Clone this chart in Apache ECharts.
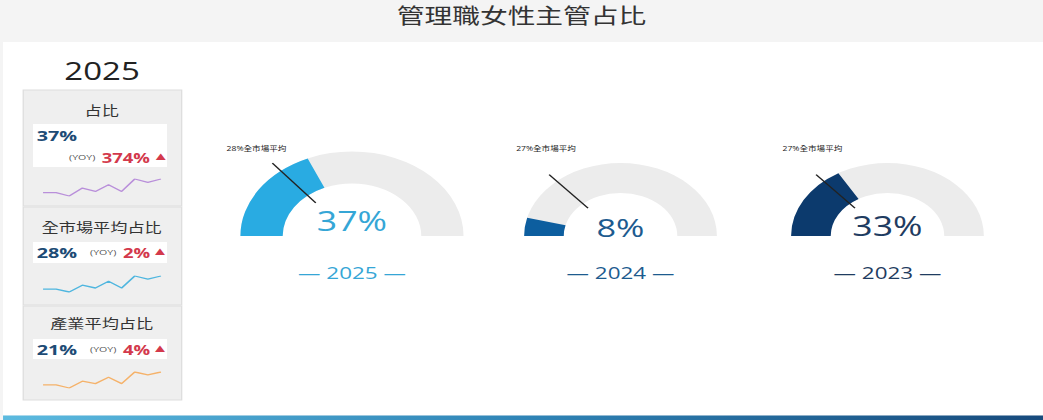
<!DOCTYPE html>
<html><head><meta charset="utf-8">
<script src="https://cdn.jsdelivr.net/npm/echarts@6/dist/echarts.min.js"></script>
<style>
html,body{margin:0;padding:0;background:#f4f4f4;overflow:hidden;width:1043px;height:420px;}
#main{width:790px;height:420px;transform:scaleX(1.32025);transform-origin:0 0;}
</style></head><body><div id="main"></div>
<script>
// ---- data ----
const chartTitle = '管理職女性主管占比';
const currentYear = '2025';
const years = ['2025', '2024', '2023'];
const ratioValues = [37, 8, 33];
const marketAvgValues = [28, 27, 27];
const marketAvgSuffix = '全市場平均';
const kpiNames = ['占比', '全市場平均占比', '產業平均占比'];
const kpiValues = [37, 28, 21];
const kpiYoy = [374, 2, 4];
const trendRatio = [13, 13, 10, 17, 14, 20, 14, 25, 22, 25];
const trendMarket = [24.7, 24.7, 24, 25.7, 25, 26.7, 25, 28, 27.2, 28];
const trendIndustry = [17.8, 17.8, 17, 18.7, 18.1, 19.7, 18.1, 21, 20.3, 21];

// ---- styling ----
const FONT = "'Open Sans', 'Noto Sans CJK TC', sans-serif";
const gaugeColors = ['#29abe2', '#0d5e9f', '#0c3a6d'];
const gaugeTextColors = ['#35a6d6', '#1d5b8f', '#1f3c61'];
const trendColors = ['#b98fda', '#4fb6df', '#f5b26a'];
const RED = '#d3394c', NAVY = '#1d4b75';

const gaugeGeo = [
  {cx: 266.6, R: 84.5, w: 32, vdy: -16, vfs: 27, ldx: -72.3},
  {cx: 470.0, R: 73, w: 30, vdy: -9, vfs: 26, ldx: -56.4},
  {cx: 672.2, R: 73, w: 30, vdy: -11, vfs: 27, ldx: -56.8}
];
const CY = 236;

const series = [];
years.forEach((y, i) => {
  const g = gaugeGeo[i];
  const common = {type: 'gauge', center: [g.cx, CY], radius: g.R, startAngle: 180, endAngle: 0,
    min: 0, max: 100, axisTick: {show: false}, splitLine: {show: false}, axisLabel: {show: false},
    anchor: {show: false}, animation: false, silent: true};
  series.push(Object.assign({}, common, {
    z: 2,
    progress: {show: true, width: g.w, itemStyle: {color: gaugeColors[i]}},
    axisLine: {lineStyle: {width: g.w, color: [[1, '#ececec']]}},
    pointer: {show: false},
    title: {offsetCenter: [0, 36.5], fontSize: 17, color: gaugeTextColors[i], fontFamily: FONT},
    detail: {offsetCenter: [0, g.vdy], formatter: '{value}%', fontSize: g.vfs, fontWeight: 'normal',
      color: gaugeTextColors[i], fontFamily: FONT},
    data: [{value: ratioValues[i], name: '— ' + y + ' —'}]
  }));
  series.push(Object.assign({}, common, {
    z: 5,
    progress: {show: false},
    axisLine: {show: false},
    pointer: {show: true, icon: 'rect', width: 1.2, length: g.R * 0.61, offsetCenter: [0, -g.R * 0.51],
      itemStyle: {color: '#222'}},
    title: {show: false},
    detail: {offsetCenter: [g.ldx, -87.5], formatter: '{value}%' + marketAvgSuffix, fontSize: 6.5,
      color: '#222', fontWeight: 'normal', fontFamily: FONT},
    data: [{value: marketAvgValues[i]}]
  }));
});

// sparklines
const trends = [trendRatio, trendMarket, trendIndustry];
const sparkTops = [179, 276, 372];
const sparkH = [17, 16, 16];
const grids = [], xAxes = [], yAxes = [];
trends.forEach((t, i) => {
  grids.push({left: 32.6, width: 89.3, top: sparkTops[i], height: sparkH[i]});
  xAxes.push({type: 'category', gridIndex: i, boundaryGap: false, show: false});
  yAxes.push({type: 'value', gridIndex: i, min: 'dataMin', max: 'dataMax', show: false});
  series.push({type: 'line', xAxisIndex: i, yAxisIndex: i, data: t, symbol: 'none', silent: true,
    animation: false, lineStyle: {color: trendColors[i], width: 1.3}});
});

// graphics (backgrounds + KPI texts)
function txt(x, y, text, size, color, align, weight) {
  return {type: 'text', x: x, y: y, silent: true, style: {text: text, fontSize: size, fontFamily: FONT,
    fill: color, align: align || 'left', verticalAlign: 'middle', fontWeight: weight || 'normal'}};
}
const graphic = [
  {type: 'rect', shape: {x: 2.3, y: 42, width: 790, height: 373.5}, style: {fill: '#ffffff'}, silent: true},
  {type: 'rect', shape: {x: 2.3, y: 415.5, width: 790, height: 4.5}, silent: true,
    style: {fill: new echarts.graphic.LinearGradient(0, 0, 1, 0, [
      {offset: 0, color: '#5cbadf'}, {offset: 0.5, color: '#2f84b6'}, {offset: 1, color: '#174a7c'}])}},
  txt(395, 15, chartTitle, 21, '#333', 'center'),
  txt(77.3, 71, currentYear, 25, '#222', 'center')
];
const secY = [90, 207, 306], secH = [116, 98, 94];
const titleY = [109.5, 226.5, 323.3];
const boxY = [124, 242, 339], boxH = [43, 21, 20];
secY.forEach((y, i) => {
  graphic.push({type: 'rect', shape: {x: 17.6, y: y, width: 120, height: secH[i]}, silent: true,
    style: {fill: '#efefef', stroke: '#dedede', lineWidth: 1}});
  graphic.push({type: 'rect', shape: {x: 25, y: boxY[i], width: 101.5, height: boxH[i]}, silent: true,
    style: {fill: '#ffffff'}});
  graphic.push(txt(77, titleY[i], kpiNames[i], 13, '#333', 'center'));
});
const valRowY = [135.5, 252.5, 349];
const yoyRowY = [157, 252.5, 349];
const yoyX = [52.3, 68.2, 68.2], pctX = [77, 93.2, 93.2], triX = [121.7, 121.2, 121.2];
kpiValues.forEach((v, i) => {
  graphic.push(txt(27.8, valRowY[i], v + '%', 15, NAVY, 'left', 'bold'));
  graphic.push(txt(yoyX[i], yoyRowY[i], '(YOY)', 8, '#555', 'left'));
  graphic.push(txt(pctX[i], yoyRowY[i], kpiYoy[i] + '%', 14, RED, 'left', 'bold'));
  graphic.push(txt(triX[i], yoyRowY[i], '▲', 8, RED, 'center'));
});

const chart = echarts.init(document.getElementById('main'), null, {renderer: 'svg', width: 790, height: 420});
chart.setOption({
  animation: false,
  backgroundColor: '#f4f4f4',
  graphic: graphic,
  grid: grids, xAxis: xAxes, yAxis: yAxes,
  series: series
});
</script></body></html>
